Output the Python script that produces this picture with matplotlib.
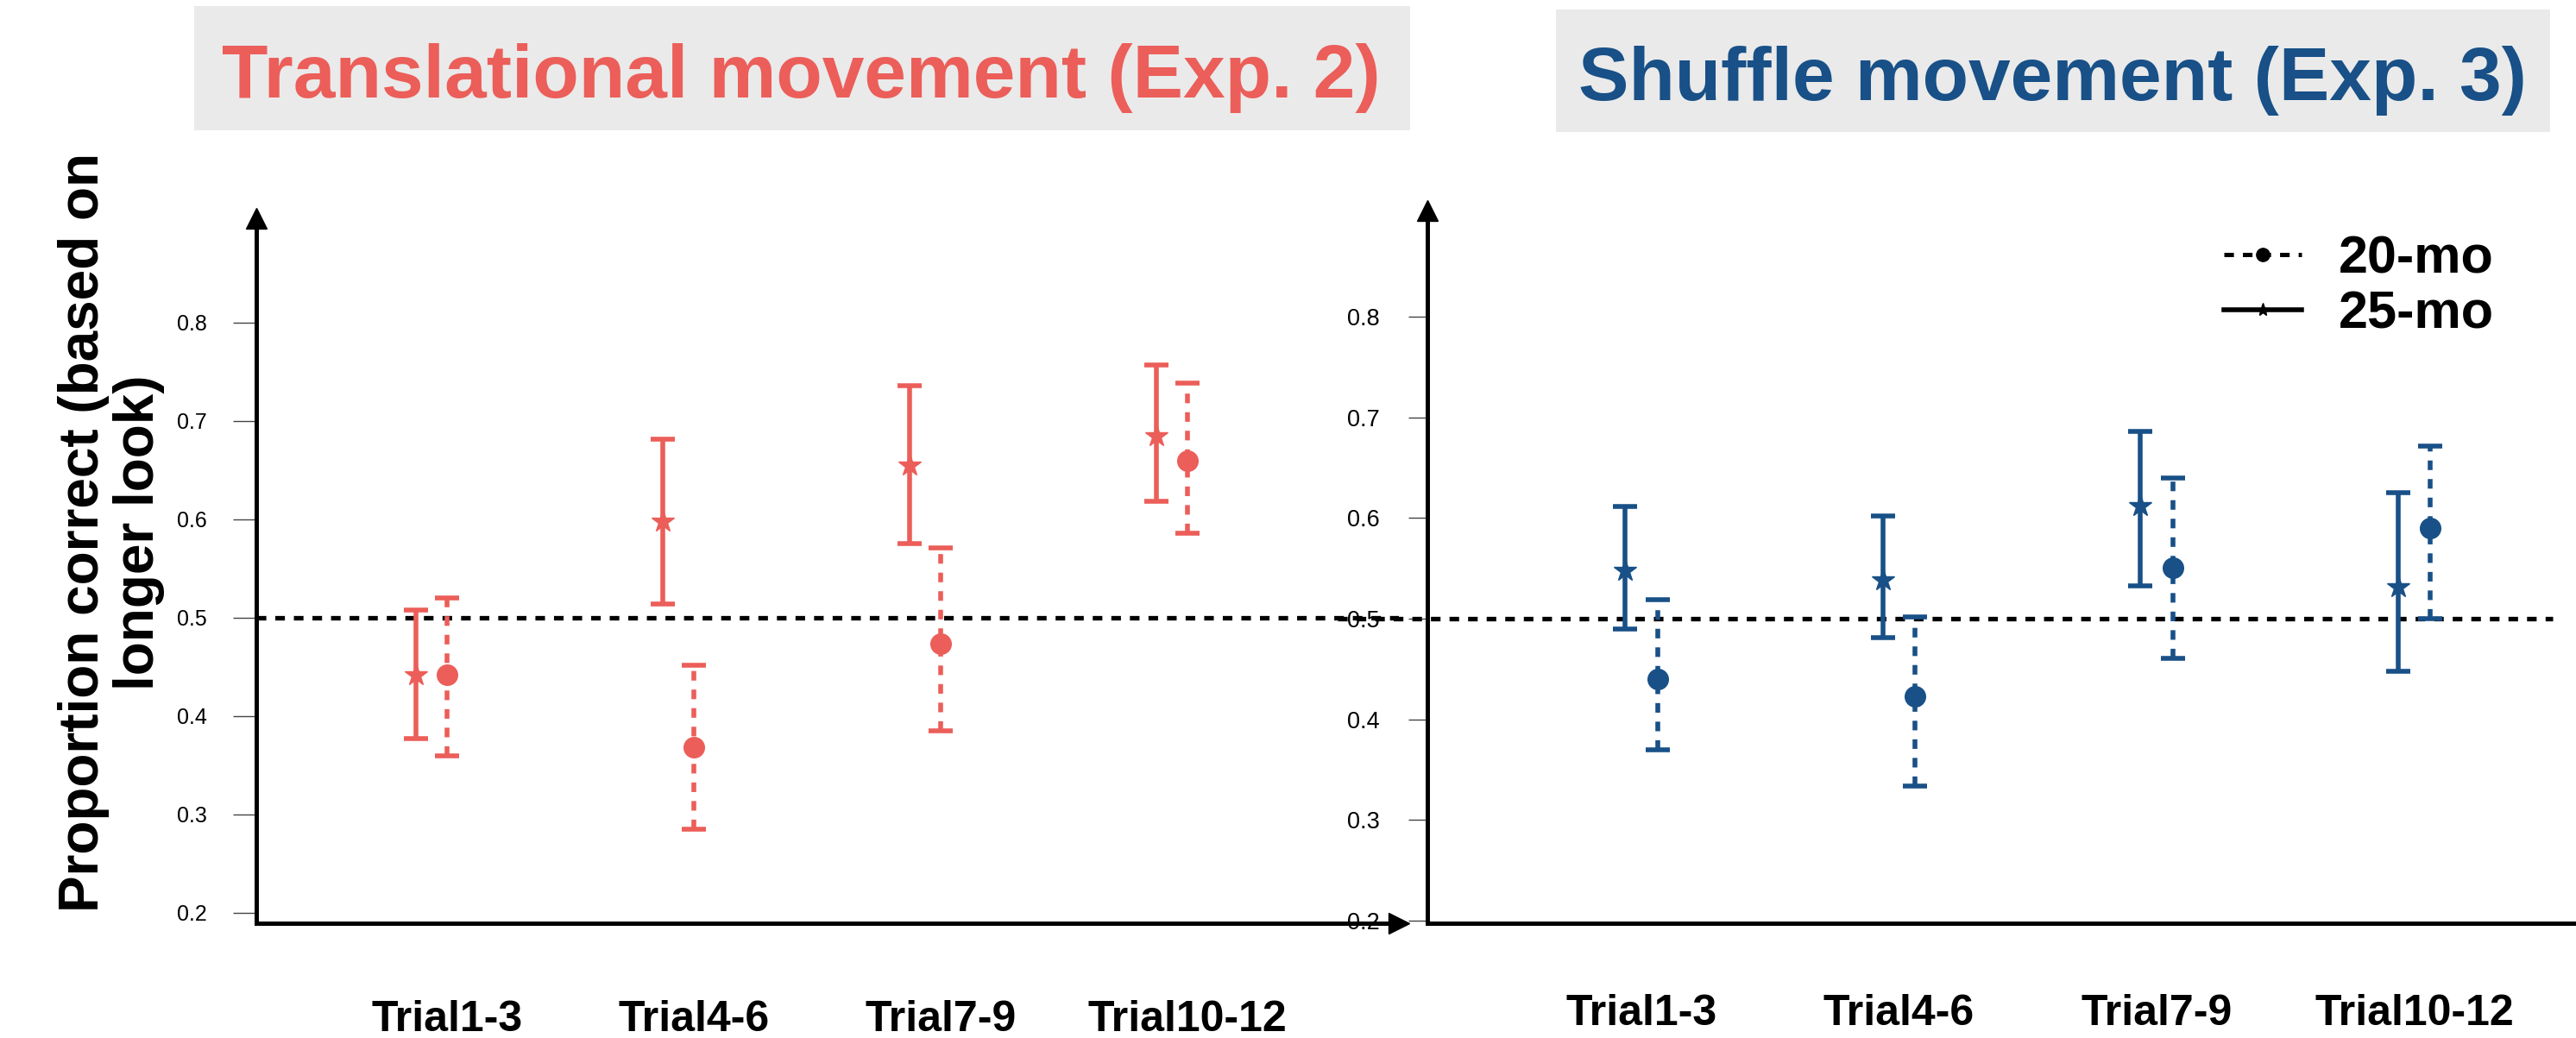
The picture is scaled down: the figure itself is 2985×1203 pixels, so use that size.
import matplotlib
matplotlib.use('Agg')
import matplotlib.pyplot as plt
import matplotlib.transforms as mtransforms
from matplotlib.lines import Line2D
from matplotlib.patches import Rectangle
import numpy as np

plt.rcParams['font.family'] = ['Liberation Sans', 'DejaVu Sans']
plt.rcParams['lines.scale_dashes'] = False

# ---------------- data ----------------
categories = ['Trial1-3', 'Trial4-6', 'Trial7-9', 'Trial10-12']
yticks = [0.2, 0.3, 0.4, 0.5, 0.6, 0.7, 0.8]
ytick_labels = ['0.2', '0.3', '0.4', '0.5', '0.6', '0.7', '0.8']
chance = 0.5
series_labels = ['20-mo', '25-mo']

# Exp. 2 : translational movement
exp2_25mo_mean = [0.442, 0.598, 0.655, 0.685]
exp2_25mo_low = [0.377, 0.514, 0.575, 0.618]
exp2_25mo_high = [0.508, 0.682, 0.736, 0.757]
exp2_20mo_mean = [0.442, 0.368, 0.474, 0.660]
exp2_20mo_low = [0.360, 0.285, 0.385, 0.586]
exp2_20mo_high = [0.520, 0.452, 0.571, 0.739]

# Exp. 3 : shuffle movement
exp3_25mo_mean = [0.548, 0.539, 0.612, 0.532]
exp3_25mo_low = [0.490, 0.481, 0.533, 0.448]
exp3_25mo_high = [0.611, 0.602, 0.686, 0.625]
exp3_20mo_mean = [0.440, 0.423, 0.551, 0.590]
exp3_20mo_low = [0.370, 0.334, 0.461, 0.500]
exp3_20mo_high = [0.519, 0.502, 0.640, 0.671]

title_left = 'Translational movement (Exp. 2)'
title_right = 'Shuffle movement (Exp. 3)'
ylabel = 'Proportion correct (based on\nlonger look)'

# ---------------- style ----------------
RED = '#EC5E59'
BLUE = '#185087'
BOXGRAY = '#EAEAEA'
W, H, DPI = 2985, 1203, 100
DASH = (0, (8, 7.5))

fig = plt.figure(figsize=(W / DPI, H / DPI), dpi=DPI)


def fig_rect(x0, y0, x1, y1):
    return [x0 / W, 1 - y1 / H, (x1 - x0) / W, (y1 - y0) / H]


ax1 = fig.add_axes(fig_rect(297, 253, 1621, 1070))
ax2 = fig.add_axes(fig_rect(1654, 244, 2985, 1070))

ax1.set_xlim(-0.71, 3.92)
ax1.set_ylim(0.18947, 0.90614)
ax2.set_xlim(-0.8308, 3.628)
ax2.set_ylim(0.19744, 0.90542)

x = np.arange(len(categories))
off = 0.063


def draw(ax, mean, low, high, color, marker, ms, pos, dashed):
    mean = np.asarray(mean)
    yerr = [mean - np.asarray(low), np.asarray(high) - mean]
    eb = ax.errorbar(pos, mean, yerr=yerr, fmt=marker, ms=ms, color=color,
                     ecolor=color, elinewidth=4.0, capsize=10, capthick=4.0,
                     zorder=3)
    if dashed:
        eb[2][0].set_linestyle(DASH)


draw(ax1, exp2_25mo_mean, exp2_25mo_low, exp2_25mo_high, RED, '*', 19, x - off, False)
draw(ax1, exp2_20mo_mean, exp2_20mo_low, exp2_20mo_high, RED, 'o', 17, x + off, True)
draw(ax2, exp3_25mo_mean, exp3_25mo_low, exp3_25mo_high, BLUE, '*', 19, x - off, False)
draw(ax2, exp3_20mo_mean, exp3_20mo_low, exp3_20mo_high, BLUE, 'o', 17, x + off, True)

# chance line
ax1.axhline(chance, xmin=0, xmax=1, color='k', lw=3.8, ls=DASH, zorder=2)
ax2.axhline(chance, xmin=-0.078, xmax=0.98, color='k', lw=3.8, ls=DASH,
            zorder=2, clip_on=False)

for ax, tick_len, pad, tsize, xpad in [(ax1, 19.5, 21.5, 18, 64), (ax2, 16, 24, 19.5, 59)]:
    for s in ['top', 'right']:
        ax.spines[s].set_visible(False)
    for s in ['left', 'bottom']:
        ax.spines[s].set_linewidth(3.6)
        ax.spines[s].set_color('black')
    ax.set_yticks(yticks, ytick_labels)
    ax.tick_params(axis='y', direction='out', length=tick_len, width=1.0,
                   color='#444444', pad=pad, labelsize=tsize)
    ax.set_xticks(x, categories)
    ax.tick_params(axis='x', length=0, pad=xpad, labelsize=36)
    for lab in ax.get_xticklabels():
        lab.set_fontweight('bold')
    # arrow heads
    ax.plot([0], [1], marker='^', ms=17, color='k', transform=ax.transAxes,
            clip_on=False, zorder=5)

# the left panel's category labels sit slightly right of the points
shift = mtransforms.ScaledTranslation(18 / DPI, 0, fig.dpi_scale_trans)
for lab in ax1.get_xticklabels():
    lab.set_transform(lab.get_transform() + shift)

ax1.plot([1], [0], marker='>', ms=17, color='k', transform=ax1.transAxes,
         clip_on=False, zorder=5)

# titles with grey boxes
fig.patches.append(Rectangle((225 / W, 1 - 151 / H), 1409 / W, 144 / H,
                             transform=fig.transFigure, facecolor=BOXGRAY,
                             edgecolor='none', zorder=0))
fig.patches.append(Rectangle((1803 / W, 1 - 153 / H), 1152 / W, 142 / H,
                             transform=fig.transFigure, facecolor=BOXGRAY,
                             edgecolor='none', zorder=0))
fig.text(928.5 / W, 1 - 113 / H, title_left, ha='center', va='baseline',
         fontsize=63, fontweight='bold', color=RED)
fig.text(2378 / W, 1 - 116 / H, title_right, ha='center', va='baseline',
         fontsize=63, fontweight='bold', color=BLUE)

# y label
fig.text(129 / W, 1 - 617 / H, ylabel, rotation=90, ha='center', va='center',
         fontsize=46, fontweight='bold', linespacing=1.1,
         multialignment='center')

# legend
handles = [
    Line2D([0], [0], color='k', ls=DASH, lw=3.6, marker='o', ms=11,
           label=series_labels[0]),
    Line2D([0], [0], color='k', lw=4, marker='*', ms=11,
           label=series_labels[1]),
]
ax2.legend(handles=handles, loc='upper left',
           bbox_to_anchor=(2577 / W, 1 - 272 / H),
           bbox_transform=fig.transFigure, frameon=False,
           prop={'weight': 'bold', 'size': 44}, handlelength=1.47,
           handletextpad=0.7, labelspacing=0.12, borderpad=0,
           borderaxespad=0)

fig.savefig('out.png', dpi=DPI)
